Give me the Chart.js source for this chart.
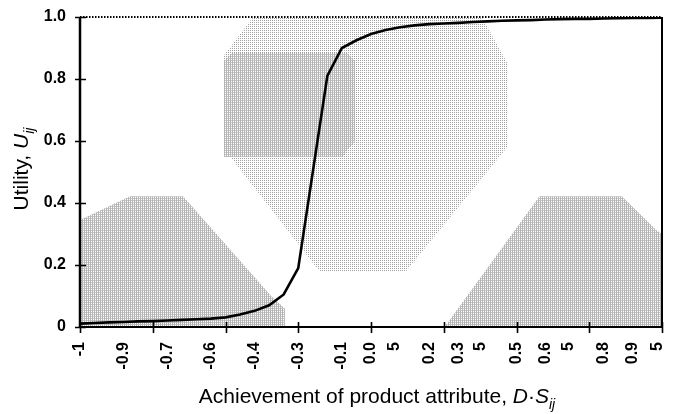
<!DOCTYPE html>
<html>
<head>
<meta charset="utf-8">
<script src="https://cdn.jsdelivr.net/npm/chart.js@4"></script>
<style>
  body { margin: 0; background: #fff; }
  canvas { display: block; }
</style>
</head>
<body>
<canvas id="utilityCanvas" width="678" height="414"></canvas>
<script>
// achievement values (x) and utility (y)
const achievement = [-1, -0.95, -0.9, -0.85, -0.8, -0.75, -0.7, -0.65, -0.6, -0.55,
    -0.5, -0.45, -0.4, -0.35, -0.3, -0.25, -0.2, -0.15, -0.1, -0.05,
    0, 0.05, 0.1, 0.15, 0.2, 0.25, 0.3, 0.35, 0.4, 0.45,
    0.5, 0.55, 0.6, 0.65, 0.7, 0.75, 0.8, 0.85, 0.9, 0.95, 1];
const utility = [0.011, 0.013, 0.015, 0.016, 0.018, 0.019, 0.021, 0.023, 0.025, 0.027,
    0.031, 0.04, 0.052, 0.07, 0.105, 0.19, 0.5, 0.81, 0.9, 0.925,
    0.945, 0.958, 0.967, 0.973, 0.977, 0.979, 0.981, 0.984, 0.986, 0.988,
    0.989, 0.99, 0.992, 0.993, 0.994, 0.994, 0.995, 0.996, 0.997, 0.997, 0.998];

// tick labels as printed in the figure
const xTickValues = [-1, -0.85, -0.7, -0.55, -0.4, -0.25, -0.1, 0, 0.08, 0.2, 0.3, 0.375, 0.5, 0.6, 0.68, 0.8, 0.9, 0.985];
const xTickLabels = ['-1', '-0.9', '-0.7', '-0.6', '-0.4', '-0.3', '-0.1', '0.0', '5', '0.2', '0.3', '5', '0.5', '0.6', '5', '0.8', '0.9', '5'];
const xTickMarks = [-1, -0.75, -0.5, -0.25, 0, 0.25, 0.5, 0.75, 1];
const yTickValues = [0, 0.2, 0.4, 0.6, 0.8, 1];
const yTickLabels = ['0', '0.2', '0.4', '0.6', '0.8', '1.0'];

// grey halftone patches behind the curve (data units)
const shadeShapes = [
    { dense: true, pts: [[-1, 0], [-1, 0.345], [-0.828, 0.422], [-0.646, 0.422], [-0.34, 0.097], [-0.296, 0.06], [-0.296, 0]] },
    { dense: false, pts: [[-0.405, 1], [-0.505, 0.877], [-0.505, 0.575], [-0.186, 0.19], [-0.171, 0.178], [0.119, 0.178], [0.468, 0.58], [0.468, 0.852], [0.381, 1]] },
    { dense: true, pts: [[-0.505, 0.86], [-0.48, 0.884], [-0.08, 0.884], [-0.055, 0.86], [-0.055, 0.6], [-0.1, 0.548], [-0.505, 0.548]] },
    { dense: true, pts: [[0.253, 0], [0.579, 0.422], [0.862, 0.422], [0.981, 0.3125], [1, 0.3], [1, 0]] }
];

const FONT = "'Liberation Sans', Arial, sans-serif";

function makePattern(ctx, dense) {
    const c = document.createElement('canvas');
    c.width = 2; c.height = 2;
    const p = c.getContext('2d');
    p.fillStyle = '#fff';
    p.fillRect(0, 0, 2, 2);
    if (dense) {
        p.fillStyle = '#b4b4b4';
        p.fillRect(0, 0, 1, 2);
        p.fillStyle = '#c8c8c8';
        p.fillRect(1, 0, 1, 1);
    } else {
        p.fillStyle = '#a0a0a0';
        p.fillRect(0, 0, 1, 1);
    }
    return ctx.createPattern(c, 'repeat');
}

// draws text pieces (normal / italic / subscript) one after another
function drawRich(ctx, parts, cx, baseline) {
    const fontOf = p => (p.italic ? 'italic ' : '') + (p.sub ? '14px ' : '21px ') + FONT;
    let total = 0;
    parts.forEach(p => { ctx.font = fontOf(p); total += ctx.measureText(p.t).width; });
    let x = cx - total / 2;
    ctx.textAlign = 'left';
    ctx.textBaseline = 'alphabetic';
    parts.forEach(p => {
        ctx.font = fontOf(p);
        ctx.fillText(p.t, x, baseline + (p.sub ? 6 : 0));
        x += ctx.measureText(p.t).width;
    });
}

const framePlugin = {
    id: 'frame',
    beforeDatasetsDraw(chart) {
        const { ctx, chartArea: a, scales: { x, y } } = chart;
        ctx.save();
        ctx.beginPath();
        ctx.rect(a.left, a.top, a.right - a.left, a.bottom - a.top);
        ctx.clip();
        shadeShapes.forEach(s => {
            ctx.fillStyle = makePattern(ctx, s.dense);
            ctx.beginPath();
            s.pts.forEach(([vx, vy], i) => {
                const px = x.getPixelForValue(vx), py = y.getPixelForValue(vy);
                if (i) ctx.lineTo(px, py); else ctx.moveTo(px, py);
            });
            ctx.closePath();
            ctx.fill();
        });
        ctx.restore();
    },
    afterDraw(chart) {
        const { ctx, chartArea: a, scales: { x, y } } = chart;
        ctx.save();
        ctx.strokeStyle = '#000';

        // top border (dotted)
        ctx.lineWidth = 2;
        ctx.setLineDash([1.5, 1.5]);
        ctx.beginPath();
        ctx.moveTo(a.left, a.top); ctx.lineTo(a.right, a.top);
        ctx.stroke();
        ctx.setLineDash([]);

        // right border, bottom and left axes
        ctx.beginPath();
        ctx.moveTo(a.right, a.top); ctx.lineTo(a.right, a.bottom);
        ctx.moveTo(a.left, a.bottom); ctx.lineTo(a.right, a.bottom);
        ctx.stroke();
        ctx.lineWidth = 2.5;
        ctx.beginPath();
        ctx.moveTo(a.left, a.top); ctx.lineTo(a.left, a.bottom + 1);
        ctx.stroke();

        // tick marks crossing the axes
        ctx.lineWidth = 1.6;
        ctx.beginPath();
        yTickValues.forEach(v => {
            const py = Math.round(y.getPixelForValue(v)) + 0.5;
            ctx.moveTo(a.left - 5, py); ctx.lineTo(a.left + 6, py);
        });
        xTickMarks.forEach(v => {
            const px = Math.round(x.getPixelForValue(v)) + 0.5;
            ctx.moveTo(px, a.bottom - 5); ctx.lineTo(px, a.bottom + 6);
        });
        ctx.stroke();

        // axis titles
        ctx.fillStyle = '#000';
        drawRich(ctx, [
            { t: 'Achievement of product attribute, ' },
            { t: 'D', italic: true },
            { t: '\u00b7' },
            { t: 'S', italic: true },
            { t: 'ij', italic: true, sub: true }
        ], 377, 403);

        ctx.translate(28, (a.top + a.bottom) / 2 - 3);
        ctx.rotate(-Math.PI / 2);
        drawRich(ctx, [
            { t: 'Utility, ' },
            { t: 'U', italic: true },
            { t: 'ij', italic: true, sub: true }
        ], 0, 0);
        ctx.restore();
    }
};

new Chart(document.getElementById('utilityCanvas').getContext('2d'), {
    type: 'line',
    data: {
        datasets: [{
            label: 'Utility',
            data: achievement.map((v, i) => ({ x: v, y: utility[i] })),
            borderColor: '#000',
            borderWidth: 2.6,
            pointRadius: 0,
            fill: false,
            tension: 0
        }]
    },
    options: {
        responsive: false,
        animation: false,
        devicePixelRatio: 1,
        layout: { padding: { left: 0, right: 16, top: 17, bottom: 0 } },
        plugins: {
            legend: { display: false },
            tooltip: { enabled: false }
        },
        scales: {
            x: {
                type: 'linear',
                min: -1,
                max: 1,
                grid: { display: false },
                border: { display: false },
                afterBuildTicks: scale => { scale.ticks = xTickValues.map(v => ({ value: v })); },
                afterFit: scale => {
                    scale.height = 87;
                    scale.paddingLeft = 0;
                    scale.paddingRight = 0;
                },
                ticks: {
                    autoSkip: false,
                    minRotation: 90,
                    maxRotation: 90,
                    padding: 7,
                    color: '#000',
                    font: { family: FONT, size: 16, weight: 'bold' },
                    callback: (value, index) => xTickLabels[index]
                }
            },
            y: {
                min: 0,
                max: 1,
                grid: { display: false },
                border: { display: false },
                afterBuildTicks: scale => { scale.ticks = yTickValues.map(v => ({ value: v })); },
                afterFit: scale => {
                    scale.width = 80;
                    scale.paddingTop = 0;
                    scale.paddingBottom = 0;
                },
                ticks: {
                    padding: 6,
                    color: '#000',
                    font: { family: FONT, size: 16, weight: 'bold' },
                    callback: (value, index) => yTickLabels[index]
                }
            }
        }
    },
    plugins: [framePlugin]
});
</script>
</body>
</html>
